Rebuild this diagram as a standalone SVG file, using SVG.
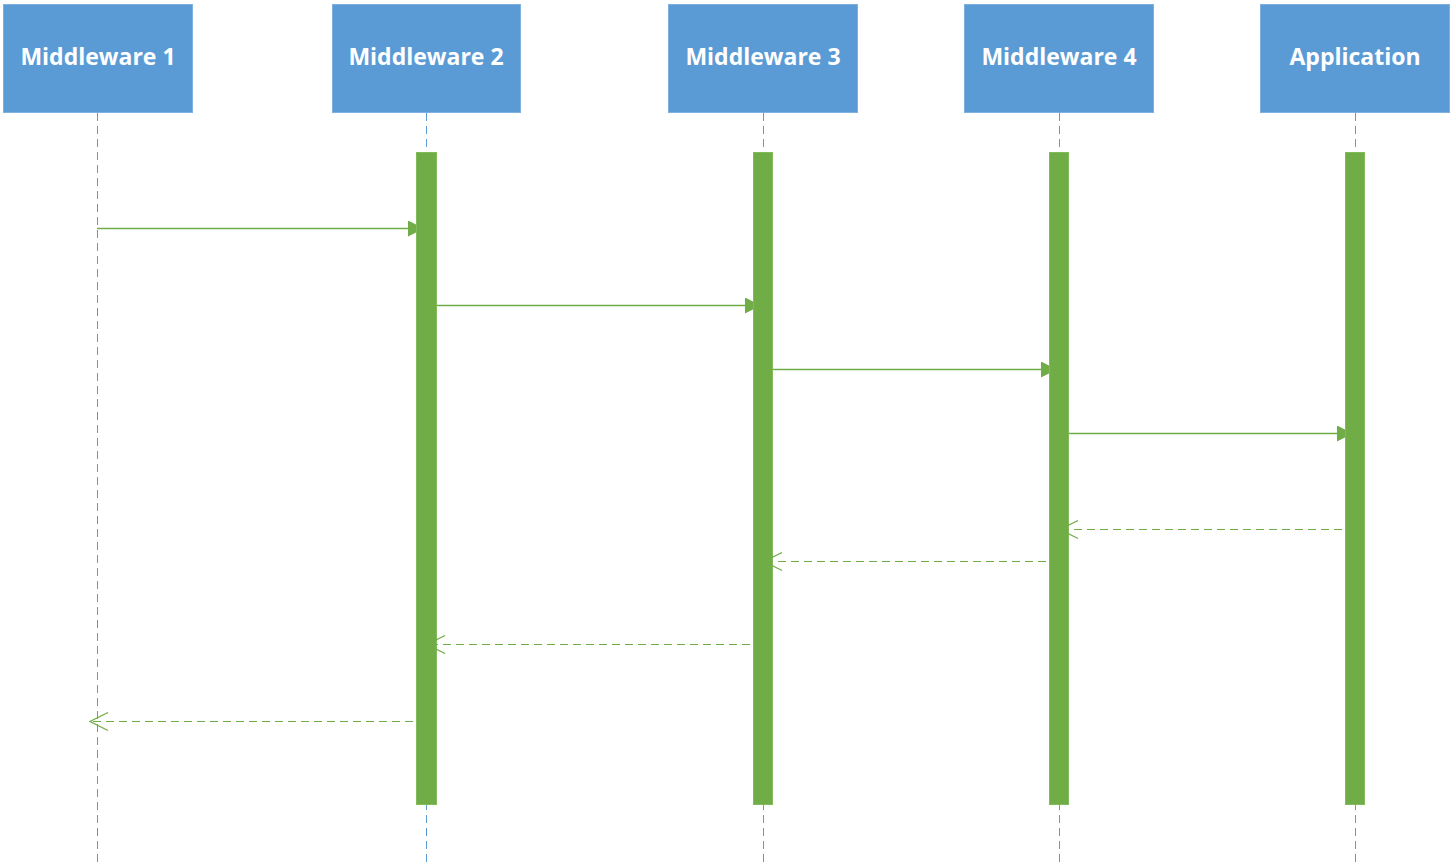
<svg xmlns="http://www.w3.org/2000/svg" width="1456" height="867" viewBox="0 0 1456 867">
<defs>
<style>
.box{fill:#5B9BD5;stroke:#7EB1E0;stroke-width:1}
.lbl{fill:#fff;font-family:"Open Sans","Liberation Sans",sans-serif;font-weight:bold;font-size:23px;text-anchor:middle}
.life{stroke:#5B9BD5;stroke-width:1;stroke-dasharray:8,5;fill:none}
.bar{fill:#70AD47;stroke:#82BB5C;stroke-width:1}
.call{stroke:#70AD47;stroke-width:1.5;fill:none;marker-end:url(#solid)}
.ret{stroke:#70AD47;stroke-width:1.2;stroke-dasharray:8,5;fill:none;marker-end:url(#open)}
</style>
<marker id="solid" viewBox="0 0 16 16" refX="16" refY="8" markerWidth="16" markerHeight="16" markerUnits="userSpaceOnUse" orient="auto">
<path d="M0,0 L16,8 L0,16 Z" fill="#70AD47"/>
</marker>
<marker id="open" viewBox="0 0 20 20" refX="19" refY="10" markerWidth="20" markerHeight="20" markerUnits="userSpaceOnUse" orient="auto">
<path d="M1,1 L19,10 L1,19" fill="none" stroke="#70AD47" stroke-width="1.2"/>
</marker>
</defs>
<g id="lifelines">
<line class="life" x1="97.5" y1="113" x2="97.5" y2="867"/>
<line class="life" x1="426.5" y1="113" x2="426.5" y2="867"/>
<line class="life" x1="763.5" y1="113" x2="763.5" y2="867"/>
<line class="life" x1="1059.5" y1="113" x2="1059.5" y2="867"/>
<line class="life" x1="1355.5" y1="113" x2="1355.5" y2="867"/>
</g>
<g id="node-m1"><rect class="box" x="3.5" y="4.5" width="189" height="108"/><text class="lbl" x="98" y="65">Middleware 1</text></g>
<g id="node-m2"><rect class="box" x="332.5" y="4.5" width="188" height="108"/><text class="lbl" x="426" y="65">Middleware 2</text></g>
<g id="node-m3"><rect class="box" x="668.5" y="4.5" width="189" height="108"/><text class="lbl" x="763" y="65">Middleware 3</text></g>
<g id="node-m4"><rect class="box" x="964.5" y="4.5" width="189" height="108"/><text class="lbl" x="1059" y="65">Middleware 4</text></g>
<g id="node-app"><rect class="box" x="1260.5" y="4.5" width="189" height="108"/><text class="lbl" x="1355" y="65">Application</text></g>
<g id="connectors-calls">
<line class="call" x1="97" y1="228.5" x2="424" y2="228.5"/>
<line class="call" x1="436" y1="305.5" x2="761" y2="305.5"/>
<line class="call" x1="773" y1="369.5" x2="1057" y2="369.5"/>
<line class="call" x1="1069" y1="433.5" x2="1353" y2="433.5"/>
</g>
<g id="activations">
<rect class="bar" x="416.5" y="152.5" width="20" height="652"/>
<rect class="bar" x="753.5" y="152.5" width="19" height="652"/>
<rect class="bar" x="1049.5" y="152.5" width="19" height="652"/>
<rect class="bar" x="1345.5" y="152.5" width="19" height="652"/>
</g>
<g id="connectors-returns">
<line class="ret" x1="1355" y1="529.5" x2="1060" y2="529.5"/>
<line class="ret" x1="1059" y1="561.5" x2="764" y2="561.5"/>
<line class="ret" x1="763" y1="644.5" x2="427" y2="644.5"/>
<line class="ret" x1="426" y1="721.5" x2="90" y2="721.5"/>
</g>
</svg>
